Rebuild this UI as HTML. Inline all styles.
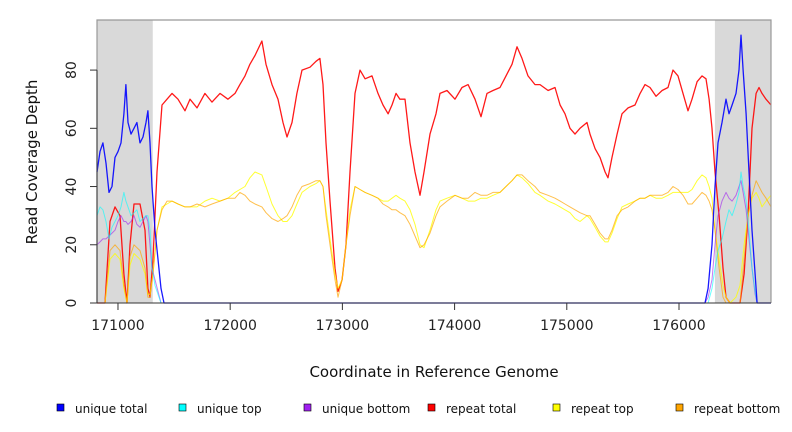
<!DOCTYPE html>
<html><head><meta charset="utf-8"><style>
body{margin:0;background:#fff}
svg{display:block;font-family:"DejaVu Sans","Liberation Sans",sans-serif}
</style></head><body>
<svg id="chart" width="792" height="432">
<g id="plot"></g>
</svg>
<script>
const positions=[170813,170884,170929,170973,171018,171053,171080,171107,171143,171196,171241,171267,171285,171312,171348,171392,171437,171481,171535,171597,171642,171704,171775,171838,171909,171980,172043,172087,172132,172176,172221,172283,172319,172373,172426,172471,172506,172551,172595,172640,172711,172765,172800,172827,172854,172890,172934,172961,172997,173032,173068,173112,173157,173202,173264,173317,173362,173407,173442,173478,173513,173558,173603,173647,173692,173727,173781,173834,173870,173932,174004,174066,174120,174182,174235,174289,174342,174405,174458,174512,174556,174601,174654,174717,174761,174833,174895,174940,174984,175029,175073,175118,175180,175207,175252,175296,175341,175367,175403,175448,175492,175546,175608,175653,175697,175742,175795,175849,175902,175947,175991,176036,176080,176116,176161,176205,176241,176268,176294,176321,176357,176392,176419,176455,176508,176544,176580,176615,176651,176687,176713,176740,176775,176820];
const repeatTotal=[0,0,28,33,30,10,0,20,34,34,25,5,2,15,45,68,70,72,70,66,70,67,72,69,72,70,72,75,78,82,85,90,82,75,70,62,57,62,72,80,81,83,84,75,55,35,12,4,8,20,45,72,80,77,78,72,68,65,68,72,70,70,55,45,37,45,58,65,72,73,70,74,75,70,64,72,73,74,78,82,88,84,78,75,75,73,74,68,65,60,58,60,62,58,53,50,45,43,50,58,65,67,68,72,75,74,71,73,74,80,78,72,66,70,76,78,77,70,60,45,30,12,2,0,0,0,10,30,60,72,74,72,70,68];
const repeatTop=[0,0,15,17,15,5,0,13,17,15,10,3,3,10,25,33,34,35,34,33,33,33,35,36,35,36,38,39,40,43,45,44,40,34,30,28,28,30,34,38,40,41,42,40,32,22,10,5,8,20,32,40,39,38,37,36,35,35,36,37,36,35,32,27,20,19,25,32,35,36,37,36,35,35,36,36,37,38,40,42,44,43,41,38,37,35,34,33,32,31,29,28,30,29,26,23,21,21,24,29,33,34,35,36,36,37,36,36,37,38,38,38,38,39,42,44,43,40,36,25,15,6,2,0,2,6,20,30,36,38,36,33,35,37];
const repeatBottom=[0,0,18,20,18,6,0,16,20,18,12,2,2,10,25,32,35,35,34,33,33,34,33,34,35,36,36,38,37,35,34,33,31,29,28,29,30,33,37,40,41,42,42,40,30,20,8,2,8,20,30,40,39,38,37,36,34,33,32,32,31,30,27,23,19,20,24,30,33,35,37,36,36,38,37,37,38,38,40,42,44,44,42,40,38,37,36,35,34,33,32,31,30,30,27,24,22,22,25,30,32,33,35,36,36,37,37,37,38,40,39,37,34,34,36,38,37,35,32,25,12,2,0,0,0,0,15,30,37,42,40,38,36,33];
const uPositions=[170813,170840,170866,170893,170920,170947,170973,171000,171027,171053,171071,171089,171116,171143,171169,171196,171223,171250,171267,171285,171303,171330,171357,171383,171410,176000,176232,176259,176294,176321,176348,176383,176419,176446,176473,176508,176535,176553,176571,176598,176624,176651,176678,176696,176722,176820];
const uniqueTotal=[45,52,55,48,38,40,50,52,55,65,75,62,58,60,62,55,57,62,66,55,40,25,15,5,0,0,0,5,20,40,55,62,70,65,68,72,80,92,80,65,45,25,10,0,0,0];
const uniqueTop=[30,33,32,28,22,26,28,30,33,38,35,33,30,31,32,28,29,30,30,25,12,6,3,0,0,0,0,0,5,12,18,22,28,32,30,34,38,45,40,35,25,12,4,0,0,0];
const uniqueBottom=[20,21,22,22,23,24,25,28,30,28,28,27,28,30,27,26,28,30,28,20,12,8,4,0,0,0,0,2,8,20,30,35,38,36,35,37,40,42,38,32,22,12,3,0,0,0];
const xTicks=[171000,172000,173000,174000,175000,176000];
const yTicks=[0,20,40,60,80];
const shaded=[[170813,171310],[176320,176820]];
const legendLabels=["unique total","unique top","unique bottom","repeat total","repeat top","repeat bottom"];
const legendColors=["#0000ff","#00ffff","#a020f0","#ff0000","#ffff00","#ffa500"];

const NS="http://www.w3.org/2000/svg";
const L=97,R=771,T=20,B=303;
const xMin=170813,xMax=176820,yMax=97.2;
const sx=v=>L+(v-xMin)/(xMax-xMin)*(R-L);
const sy=v=>B-v/yMax*(B-T);
const svg=document.getElementById('chart');
const g=document.getElementById('plot');
function mk(tag,attrs,parent){const e=document.createElementNS(NS,tag);for(const k in attrs)e.setAttribute(k,attrs[k]);(parent||svg).appendChild(e);return e;}

shaded.forEach(s=>{
  const r=mk('rect',{x:sx(s[0]),y:T,width:sx(s[1])-sx(s[0]),height:B-T,fill:'#d9d9d9'},g);
  
  
});
function line(xs,ys,color,op,w,name){
  const p=mk('polyline',{points:xs.map((x,i)=>sx(x).toFixed(1)+','+sy(ys[i]).toFixed(1)).join(' '),fill:'none',stroke:color,'stroke-opacity':op,'stroke-width':w,'stroke-linejoin':'round'},g);
  
  
}
line(positions,repeatTotal,'#ff0000',0.9,1.3,'repeat-total-line');
line(positions,repeatTop,'#ffff00',0.8,1,'repeat-top-line');
line(positions,repeatBottom,'#ffa500',0.7,1,'repeat-bottom-line');
line(uPositions,uniqueBottom,'#a020f0',0.6,1,'unique-bottom-line');
line(uPositions,uniqueTop,'#00ffff',0.6,1,'unique-top-line');
line(uPositions,uniqueTotal,'#0000ff',0.9,1.3,'unique-total-line');

const frame=mk('path',{d:`M${L},${B}V${T}H${R}V${B}`,fill:'none',stroke:'#999','stroke-width':1.2});


const bl=mk('line',{x1:L,x2:R,y1:B,y2:B,stroke:'#333','stroke-width':1});


const ya=mk('line',{x1:L,x2:L,y1:sy(80),y2:B,stroke:'#333','stroke-width':1});



yTicks.forEach(v=>{
  const t=mk('line',{x1:L-7,x2:L,y1:sy(v),y2:sy(v),stroke:'#333'});
  
  
  const tx=mk('text',{x:0,y:0,transform:`translate(${L-21},${sy(v)}) rotate(-90)`,'text-anchor':'middle','font-size':14,fill:'#222'});
  tx.textContent=v;
  
  
});
xTicks.forEach(v=>{
  const t=mk('line',{x1:sx(v),x2:sx(v),y1:B,y2:B+7,stroke:'#333'});
  
  
  const tx=mk('text',{x:sx(v),y:B+27,'text-anchor':'middle','font-size':14,fill:'#222'});
  tx.textContent=v;
  
  
});
const yt=mk('text',{x:0,y:0,transform:'translate(37,162) rotate(-90)','text-anchor':'middle','font-size':15,fill:'#111'});
yt.textContent='Read Coverage Depth';


const xt=mk('text',{x:434,y:377,'text-anchor':'middle','font-size':15,fill:'#111'});
xt.textContent='Coordinate in Reference Genome';



const legX=[57,179,304,428,553,676];
legendLabels.forEach((lab,i)=>{
  const r=mk('rect',{x:legX[i],y:404,width:7,height:7,fill:legendColors[i],stroke:'#000','stroke-width':0.6});
  
  
  const t=mk('text',{x:legX[i]+18,y:413,'font-size':12,fill:'#111'});
  t.textContent=lab;
  
  
});
</script>
</body></html>
